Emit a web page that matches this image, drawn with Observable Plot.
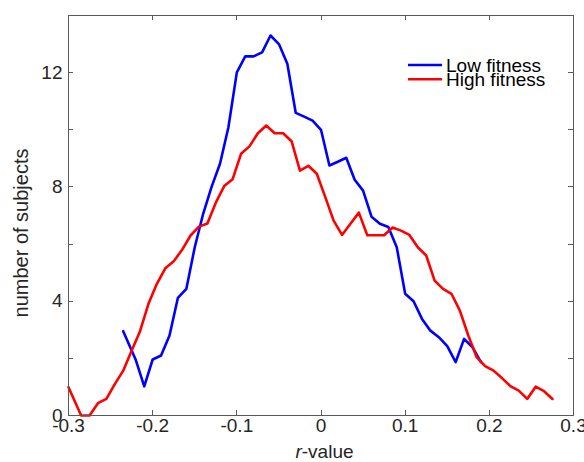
<!DOCTYPE html>
<html><head><meta charset="utf-8">
<script src="https://cdn.jsdelivr.net/npm/d3@7"></script>
<script src="https://cdn.jsdelivr.net/npm/@observablehq/plot@0.6"></script>
<style>
body{margin:0;background:#fff;}
#wrap{position:relative;width:584px;height:462px;}
</style></head><body><div id="wrap"></div><script>
// Series: Low fitness (blue)
const lowR = [-0.235, -0.22, -0.21, -0.20, -0.19, -0.18, -0.17, -0.16, -0.15, -0.14, -0.13, -0.12, -0.11, -0.10, -0.09, -0.08, -0.07, -0.06, -0.05, -0.04, -0.03, -0.02, -0.01, 0.00, 0.01, 0.02, 0.03, 0.04, 0.05, 0.06, 0.07, 0.08, 0.09, 0.10, 0.11, 0.12, 0.13, 0.14, 0.15, 0.16, 0.17, 0.18, 0.19];
const lowN = [2.95, 1.94, 1.02, 1.96, 2.10, 2.80, 4.12, 4.43, 5.89, 7.06, 8.00, 8.81, 10.09, 12.01, 12.57, 12.57, 12.71, 13.30, 13.00, 12.31, 10.59, 10.46, 10.32, 10.00, 8.75, 8.88, 9.02, 8.25, 7.87, 6.96, 6.71, 6.60, 5.89, 4.26, 4.00, 3.38, 2.97, 2.74, 2.43, 1.87, 2.68, 2.39, 1.87];
// Series: High fitness (red)
const highR = [-0.30, -0.285, -0.275, -0.265, -0.255, -0.245, -0.235, -0.225, -0.215, -0.205, -0.195, -0.185, -0.175, -0.165, -0.155, -0.145, -0.135, -0.125, -0.115, -0.105, -0.095, -0.085, -0.075, -0.065, -0.055, -0.045, -0.035, -0.025, -0.015, -0.005, 0.005, 0.015, 0.025, 0.035, 0.045, 0.055, 0.065, 0.075, 0.085, 0.095, 0.105, 0.115, 0.125, 0.135, 0.145, 0.155, 0.165, 0.175, 0.185, 0.195, 0.205, 0.215, 0.225, 0.235, 0.245, 0.255, 0.265, 0.275];
const highN = [0.99, 0.00, 0.00, 0.43, 0.58, 1.10, 1.57, 2.27, 2.95, 3.91, 4.61, 5.15, 5.40, 5.80, 6.30, 6.61, 6.72, 7.45, 8.03, 8.27, 9.16, 9.42, 9.88, 10.15, 9.88, 9.88, 9.60, 8.57, 8.74, 8.46, 7.65, 6.82, 6.32, 6.71, 7.10, 6.31, 6.31, 6.31, 6.58, 6.47, 6.32, 5.89, 5.60, 4.72, 4.43, 4.26, 3.67, 2.80, 2.04, 1.73, 1.57, 1.31, 1.03, 0.87, 0.58, 1.01, 0.85, 0.58];

const seriesNames = ["Low fitness", "High fitness"];
const seriesColors = ["#0000ff", "#ff0000"];

const xTicks = [-0.3, -0.2, -0.1, 0, 0.1, 0.2, 0.3];
const xTickLabels = ["-0.3", "-0.2", "-0.1", "0", "0.1", "0.2", "0.3"];
const yTicks = [0, 2, 4, 6, 8, 10, 12];
const yLabelTicks = [0, 4, 8, 12];
const yTickLabels = ["0", "4", "8", "12"];
const xTitleItalic = "r";
const xTitleRest = "-value";
const yTitle = "number of subjects";

const low = lowR.map((r, i) => ({r, n: lowN[i]}));
const high = highR.map((r, i) => ({r, n: highN[i]}));

const axisColor = "#5a5a5a";
const textColor = "#262626";
const FONT = "'Liberation Sans', Arial, sans-serif";
const TICK = 5;

const plot = Plot.plot({
  width: 584, height: 462,
  marginLeft: 68, marginRight: 11, marginTop: 15, marginBottom: 47,
  x: {domain: [-0.3, 0.3]},
  y: {domain: [0, 14]},
  style: {fontFamily: FONT, fontSize: "19px", color: textColor, background: "#fff", overflow: "visible"},
  marks: [
    Plot.line(low, {x: "r", y: "n", stroke: seriesColors[0], strokeWidth: 2.6}),
    Plot.line(high, {x: "r", y: "n", stroke: seriesColors[1], strokeWidth: 2.6}),
    Plot.frame({stroke: axisColor, strokeWidth: 1}),
    Plot.axisX({anchor: "bottom", ticks: xTicks, tickSize: 0, tickPadding: 3, tickFormat: d => xTickLabels[xTicks.indexOf(d)], label: null, fill: textColor}),
    Plot.axisY({anchor: "left", ticks: yLabelTicks, tickSize: 0, tickPadding: 6, tickFormat: d => yTickLabels[yLabelTicks.indexOf(d)], label: null, fill: textColor})
  ]
});

document.getElementById("wrap").appendChild(plot);

const svg = d3.select(plot);
const xs = plot.scale("x"), ys = plot.scale("y");
const x0 = xs.range[0], x1 = xs.range[1];
const yb = ys.range[0], yt = ys.range[1];

// inward ticks on all four sides, placed through the plot's scales
const tg = svg.append("g").attr("stroke", axisColor).attr("stroke-width", 1);
xTicks.forEach(v => {
  const x = Math.round(xs.apply(v)) + 0.5;
  tg.append("line").attr("x1", x).attr("x2", x).attr("y1", yb).attr("y2", yb - TICK);
  tg.append("line").attr("x1", x).attr("x2", x).attr("y1", yt).attr("y2", yt + TICK);
});
yTicks.forEach(v => {
  const y = Math.round(ys.apply(v)) + 0.5;
  tg.append("line").attr("x1", x0).attr("x2", x0 + TICK).attr("y1", y).attr("y2", y);
  tg.append("line").attr("x1", x1).attr("x2", x1 - TICK).attr("y1", y).attr("y2", y);
});

// x-axis title
const xt = svg.append("text")
  .attr("x", (x0 + x1) / 2 + 4).attr("y", yb + 43)
  .attr("text-anchor", "middle")
  .attr("font-family", FONT).attr("font-size", 19).attr("fill", textColor);
xt.append("tspan").attr("font-style", "italic").text(xTitleItalic);
xt.append("tspan").text(xTitleRest);

// y-axis title
svg.append("text")
  .attr("transform", `translate(${28},${(yb + yt) / 2 + 18}) rotate(-90)`)
  .attr("text-anchor", "middle")
  .attr("font-family", FONT).attr("font-size", 20).attr("fill", textColor)
  .text(yTitle);

// legend
const lg = svg.append("g").attr("transform", `translate(${x0 + 340},${yt + 50})`);
seriesNames.forEach((name, i) => {
  const g = lg.append("g").attr("transform", `translate(0,${i * 14.3})`);
  g.append("line").attr("x1", 0).attr("x2", 34).attr("y1", 0).attr("y2", 0)
    .attr("stroke", seriesColors[i]).attr("stroke-width", 2.6);
  g.append("text").attr("x", 38).attr("y", 0).attr("dy", "0.35em")
    .attr("text-anchor", "start")
    .attr("font-family", FONT).attr("font-size", 19).attr("fill", "#000").text(name);
});
</script></body></html>
